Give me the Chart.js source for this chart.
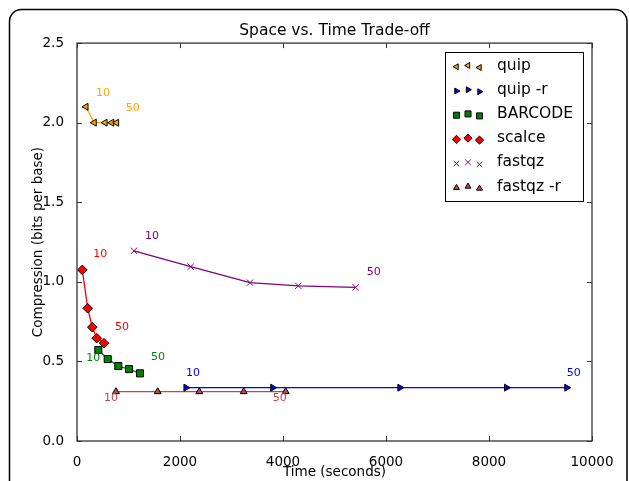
<!DOCTYPE html>
<html>
<head>
<meta charset="utf-8">
<script src="https://cdn.jsdelivr.net/npm/chart.js@4.4.0/dist/chart.umd.min.js"></script>
<style>
  html, body { margin: 0; padding: 0; background: #fff; }
</style>
</head>
<body>
<canvas id="space-time-chart" width="629" height="481"></canvas>
<script>
;(function(){
  // values
  const seriesNames = ['quip', 'quip -r', 'BARCODE', 'scalce', 'fastqz', 'fastqz -r']
  const levelLabels = ['10', '50']
  const xTicks = [0, 2000, 4000, 6000, 8000, 10000]
  const yTicks = [0.0, 0.5, 1.0, 1.5, 2.0, 2.5]

  const quipTime = [175, 335, 545, 675, 770]
  const quipBits = [2.10, 2.00, 2.00, 2.00, 2.00]
  const quipRTime = [2115, 3800, 6270, 8340, 9510]
  const quipRBits = [0.335, 0.335, 0.335, 0.335, 0.335]
  const barcodeTime = [414, 596, 802, 1010, 1223]
  const barcodeBits = [0.572, 0.515, 0.471, 0.452, 0.425]
  const scalceTime = [103, 208, 297, 383, 524]
  const scalceBits = [1.075, 0.834, 0.715, 0.646, 0.614]
  const fastqzTime = [1107, 2208, 3359, 4297, 5411]
  const fastqzBits = [1.195, 1.095, 0.995, 0.975, 0.965]
  const fastqzRTime = [757, 1567, 2375, 3237, 4052]
  const fastqzRBits = [0.31, 0.31, 0.31, 0.31, 0.31]

  const times = [quipTime, quipRTime, barcodeTime, scalceTime, fastqzTime, fastqzRTime]
  const bits = [quipBits, quipRBits, barcodeBits, scalceBits, fastqzBits, fastqzRBits]

  // look of each series
  const colors = ['#ffa500', '#0000ff', '#008000', '#ff0000', '#800080', '#c04848']
  const styles = ['triangle', 'triangle', 'rect', 'rectRot', 'crossRot', 'triangle']
  const rotations = [-90, 90, 0, 0, 0, 0]
  const radii = [4, 4, 5, 4.8, 4.5, 4]
  // pixel offsets of the "10" / "50" notes from first / last point
  const noteOffsets = [
    [[17, -14], [16, -15]],
    [[7, -15], [7, -15]],
    [[-5, 8], [18, -16]],
    [[18, -16], [18, -16]],
    [[18, -15], [18, -15]],
    [[-5, 6], [-6, 6]],
  ]

  Chart.defaults.font.family = "'DejaVu Sans', sans-serif"
  Chart.defaults.color = '#000'

  const datasets = seriesNames.map((name, i) => ({
    label: name,
    data: times[i].map((t, j) => ({ x: t, y: bits[i][j] })),
    showLine: true,
    borderColor: colors[i],
    borderWidth: 1.3,
    backgroundColor: colors[i],
    pointStyle: styles[i],
    pointRotation: rotations[i],
    pointRadius: radii[i],
    pointHoverRadius: radii[i],
    pointBackgroundColor: colors[i],
    pointBorderColor: styles[i] === 'crossRot' ? colors[i] : '#000',
    pointBorderWidth: 1,
  }))

  const frame = {
    id: 'frame',
    beforeDraw(chart) {
      const ctx = chart.ctx
      ctx.save()
      ctx.strokeStyle = '#000'
      ctx.lineWidth = 1.5
      ctx.beginPath()
      ctx.roundRect(9.5, 9.5, 617.5, 520, 12)
      ctx.stroke()
      ctx.restore()
    },
    afterDatasetsDraw(chart) {
      const ctx = chart.ctx
      const a = chart.chartArea
      ctx.save()
      // point notes
      ctx.font = "11px 'DejaVu Sans'"
      ctx.textAlign = 'center'
      ctx.textBaseline = 'middle'
      chart.data.datasets.forEach((ds, i) => {
        const pts = chart.getDatasetMeta(i).data
        const ends = [pts[0], pts[pts.length - 1]]
        ctx.fillStyle = colors[i]
        ends.forEach((p, k) => {
          ctx.fillText(levelLabels[k], p.x + noteOffsets[i][k][0], p.y + noteOffsets[i][k][1])
        })
      })
      // spines and inward ticks
      ctx.strokeStyle = '#333'
      ctx.lineWidth = 1.3
      ctx.strokeRect(a.left, a.top, a.right - a.left, a.bottom - a.top)
      ctx.lineWidth = 1
      ctx.beginPath()
      const xs = chart.scales.x, ys = chart.scales.y
      xs.ticks.forEach(t => {
        const px = Math.round(xs.getPixelForValue(t.value)) + 0.5
        ctx.moveTo(px, a.bottom); ctx.lineTo(px, a.bottom - 5)
        ctx.moveTo(px, a.top); ctx.lineTo(px, a.top + 5)
      })
      ys.ticks.forEach(t => {
        const py = Math.round(ys.getPixelForValue(t.value)) + 0.5
        ctx.moveTo(a.left, py); ctx.lineTo(a.left + 5, py)
        ctx.moveTo(a.right, py); ctx.lineTo(a.right - 5, py)
      })
      ctx.stroke()
      ctx.restore()
    },
    afterDraw(chart) {
      // matplotlib style legend, three markers per row
      const ctx = chart.ctx
      ctx.save()
      ctx.fillStyle = '#fff'
      ctx.fillRect(445.5, 52.5, 138, 149)
      ctx.strokeStyle = '#000'
      ctx.lineWidth = 1
      ctx.strokeRect(445.5, 52.5, 138, 149)
      ctx.font = "15.5px 'DejaVu Sans'"
      ctx.textAlign = 'left'
      ctx.textBaseline = 'middle'
      const markX = [456.5, 468, 479.5]
      const markDy = [1.3, 0, 2]
      chart.data.datasets.forEach((ds, i) => {
        const y = 65.5 + i * 24.2
        markX.forEach((mx, k) => {
          ctx.fillStyle = ds.pointBackgroundColor
          ctx.strokeStyle = ds.pointBorderColor
          ctx.lineWidth = 1
          Chart.helpers.drawPoint(ctx, {
            pointStyle: ds.pointStyle,
            rotation: ds.pointRotation,
            radius: ds.pointRadius * 0.85,
            borderWidth: 1,
          }, mx, y + markDy[k])
        })
        ctx.fillStyle = '#000'
        ctx.fillText(ds.label, 497, y)
      })
      ctx.restore()
    },
  }

  const config = {
    type: 'scatter',
    data: { datasets },
    options: {
      responsive: false,
      animation: false,
      layout: { padding: { left: 0, right: 37, top: 0, bottom: 0 } },
      plugins: {
        legend: { display: false },
        tooltip: { enabled: false },
        title: {
          display: true,
          text: 'Space vs. Time Trade-off',
          fullSize: false,
          font: { size: 15.5, weight: 'normal' },
          color: '#000',
          padding: { top: 21.5, bottom: 3 },
        },
      },
      scales: {
        x: {
          type: 'linear',
          min: xTicks[0],
          max: xTicks[xTicks.length - 1],
          afterBuildTicks: s => { s.ticks = xTicks.map(v => ({ value: v })) },
          afterFit: s => { s.height = 40 },
          grid: { display: false },
          border: { display: false },
          ticks: { font: { size: 13.5 }, color: '#000', padding: 5, maxRotation: 0, callback: v => String(v) },
          title: { display: true, text: 'Time (seconds)', font: { size: 13.5 }, color: '#000', padding: { top: 0, bottom: 0 } },
        },
        y: {
          type: 'linear',
          min: yTicks[0],
          max: yTicks[yTicks.length - 1],
          afterBuildTicks: s => { s.ticks = yTicks.map(v => ({ value: v })) },
          afterFit: s => { s.width = 77 },
          grid: { display: false },
          border: { display: false },
          ticks: { font: { size: 13.5 }, color: '#000', padding: 5, callback: v => v.toFixed(1) },
          title: { display: true, text: 'Compression (bits per base)', font: { size: 13.5 }, color: '#000', padding: { top: 30, bottom: 0 } },
        },
      },
    },
    plugins: [frame],
  }

  const ctx = document.getElementById('space-time-chart')
  let chart = new Chart(ctx, config)
})()
</script>
</body>
</html>
